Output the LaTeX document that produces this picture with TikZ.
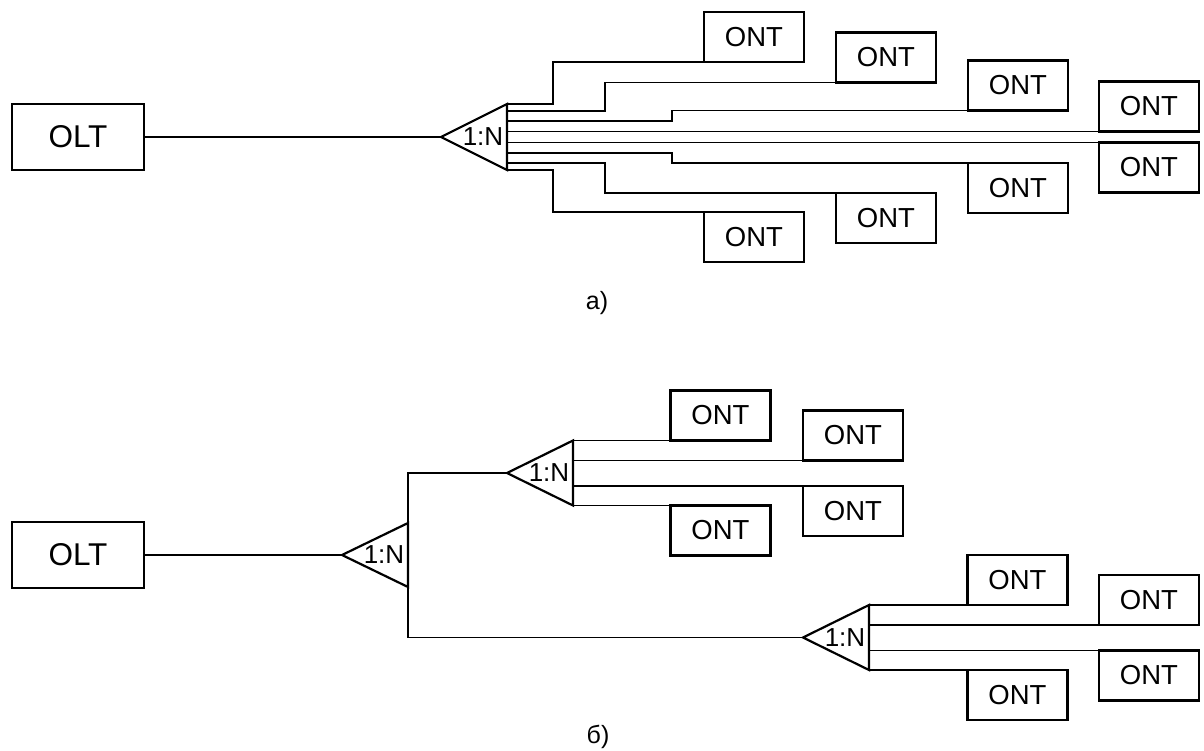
\documentclass[tikz,border=0pt]{standalone}
\usepackage{fontspec}
\setmainfont{Liberation Sans}
\begin{document}
\begin{tikzpicture}[x=1pt,y=-1pt,
  ontbox/.style={draw,line width=2.2pt,minimum width=100pt,minimum height=50pt,inner sep=0pt,outer sep=0pt,font=\fontsize{27.5}{30}\selectfont},
  oltbox/.style={draw,line width=2.2pt,minimum width=132pt,minimum height=66pt,inner sep=0pt,outer sep=0pt,font=\fontsize{31.5}{34}\selectfont},
  fiber/.style={line width=1.5pt},
  tri/.style={line width=2.2pt,line join=miter},
  lbl/.style={inner sep=0pt,font=\fontsize{26}{28}\selectfont},
  caption/.style={inner sep=0pt,font=\fontsize{25}{28}\selectfont}]
\useasboundingbox (0,0) rectangle (1204,751);
\newcommand{\splitter}[5]{%
  \coordinate (#1-t) at (#2,#3);
  \coordinate (#1-top) at (#4,{#3-#5});
  \coordinate (#1-bot) at (#4,{#3+#5});
  \draw[tri] (#1-t) -- (#1-top) -- (#1-bot) -- cycle;
  \node[lbl] (#1-l) at ({#4-24},#3) {1:N};}

% ---------- a) ----------
\node[oltbox] (olt1) at (78,137) {OLT};
\splitter{s1}{441}{137}{507}{33}
\draw[fiber] (olt1.east) -- (s1-t);

\node[ontbox] (a1) at (754,37) {ONT};
\node[ontbox] (a2) at (886,57.5) {ONT};
\node[ontbox] (a3) at (1018,85.5) {ONT};
\node[ontbox] (a4) at (1149,106.5) {ONT};
\node[ontbox] (a5) at (1149,167.5) {ONT};
\node[ontbox] (a6) at (1018,188) {ONT};
\node[ontbox] (a7) at (886,218) {ONT};
\node[ontbox] (a8) at (754,237) {ONT};

\coordinate (o1) at (507,104);
\coordinate (o2) at (507,111);
\coordinate (o3) at (507,121);
\coordinate (o4) at (507,131.5);
\coordinate (o5) at (507,142.5);
\coordinate (o6) at (507,153);
\coordinate (o7) at (507,163);
\coordinate (o8) at (507,170);

\draw[fiber] (o1) -- ++(46,0) |- (a1.south west);
\draw[fiber] (o2) -- ++(98,0) |- (a2.south west);
\draw[fiber] (o3) -- ++(165,0) |- (a3.south west);
\draw[fiber] (o4) -- (a4.south west);
\draw[fiber] (o5) -- (a5.north west);
\draw[fiber] (o6) -- ++(165,0) |- (a6.north west);
\draw[fiber] (o7) -- ++(98,0) |- (a7.north west);
\draw[fiber] (o8) -- ++(46,0) |- (a8.north west);

\node[caption] (capa) at (597,303) {а)};

% ---------- б) ----------
\node[oltbox] (olt2) at (78,555) {OLT};
\splitter{s2}{342}{555}{408}{32}
\draw[fiber] (olt2.east) -- (s2-t);

\splitter{s3}{507}{473}{573}{32.5}
\splitter{s4}{803}{637.5}{869}{32.5}
\draw[fiber] (s2-top) |- (s3-t);
\draw[fiber] (s2-bot) |- (s4-t);

\node[ontbox] (b1) at (720.5,415.5) {ONT};
\node[ontbox] (b2) at (853,435.5) {ONT};
\node[ontbox] (b3) at (853,511) {ONT};
\node[ontbox] (b4) at (720.5,530.5) {ONT};
\coordinate (p2) at (573,460.5);
\coordinate (p3) at (573,486);
\draw[fiber] (s3-top) -- (b1.south west);
\draw[fiber] (p2) -- (b2.south west);
\draw[fiber] (p3) -- (b3.north west);
\draw[fiber] (s3-bot) -- (b4.north west);

\node[ontbox] (c1) at (1017.5,580) {ONT};
\node[ontbox] (c2) at (1149,600) {ONT};
\node[ontbox] (c3) at (1149,675.5) {ONT};
\node[ontbox] (c4) at (1017.5,695) {ONT};
\coordinate (q2) at (869,625);
\coordinate (q3) at (869,650.5);
\draw[fiber] (s4-top) -- (c1.south west);
\draw[fiber] (q2) -- (c2.south west);
\draw[fiber] (q3) -- (c3.north west);
\draw[fiber] (s4-bot) -- (c4.north west);

\node[caption] (capb) at (598,737) {б)};
\end{tikzpicture}
\end{document}
